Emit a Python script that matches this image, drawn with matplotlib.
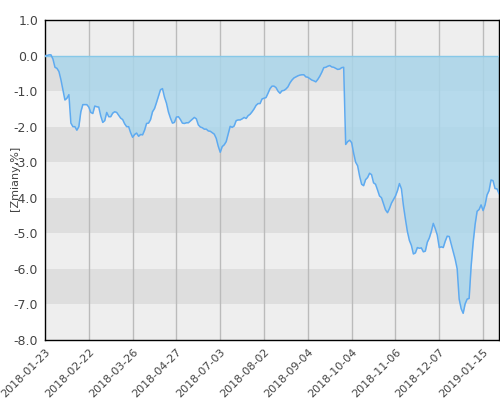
import numpy as np
import matplotlib
matplotlib.use("Agg")
import matplotlib.pyplot as plt

# zmiany w % (kolejne notowania)
zmiany = [
    0.0, 0.0, 0.02, 0.02, -0.1, -0.33, -0.36, -0.45, -0.68, -0.97,
    -1.25, -1.2, -1.1, -1.9, -2.0, -2.0, -2.1, -2.0, -1.58, -1.38,
    -1.38, -1.38, -1.45, -1.6, -1.63, -1.42, -1.44, -1.45, -1.7, -1.88,
    -1.83, -1.6, -1.72, -1.72, -1.62, -1.58, -1.6, -1.68, -1.76, -1.8,
    -1.92, -2.0, -2.0, -2.17, -2.3, -2.22, -2.18, -2.27, -2.22, -2.23,
    -2.1, -1.91, -1.9, -1.8, -1.58, -1.49, -1.32, -1.14, -0.96, -0.93,
    -1.17, -1.34, -1.59, -1.76, -1.9, -1.88, -1.73, -1.72, -1.8, -1.9,
    -1.91, -1.89, -1.89, -1.84, -1.79, -1.74, -1.78, -1.95, -2.01, -2.03,
    -2.07, -2.07, -2.12, -2.13, -2.17, -2.21, -2.33, -2.55, -2.72, -2.56,
    -2.51, -2.42, -2.2, -1.99, -2.02, -1.98, -1.83, -1.81, -1.81, -1.78,
    -1.74, -1.77, -1.69, -1.65, -1.58, -1.5, -1.4, -1.35, -1.35, -1.22,
    -1.2, -1.18, -1.06, -0.93, -0.86, -0.86, -0.9, -1.0, -1.06, -0.99,
    -0.98, -0.94, -0.88, -0.77, -0.69, -0.63, -0.6, -0.57, -0.55, -0.54,
    -0.54, -0.6, -0.61, -0.65, -0.69, -0.71, -0.74, -0.67, -0.58, -0.47,
    -0.34, -0.33, -0.3, -0.28, -0.32, -0.33, -0.36, -0.39, -0.38, -0.34,
    -0.33, -2.5, -2.42, -2.38, -2.45, -2.75, -3.0, -3.1, -3.39, -3.62,
    -3.66, -3.49, -3.43, -3.31, -3.35, -3.58, -3.62, -3.78, -3.95, -4.0,
    -4.17, -4.34, -4.42, -4.3, -4.15, -4.05, -3.95, -3.8, -3.6, -3.75,
    -4.22, -4.6, -4.95, -5.2, -5.34, -5.58, -5.55, -5.4, -5.42, -5.41,
    -5.52, -5.5, -5.25, -5.13, -4.95, -4.72, -4.87, -5.05, -5.4, -5.38,
    -5.4, -5.22, -5.08, -5.09, -5.3, -5.52, -5.73, -6.0, -6.85, -7.12,
    -7.25, -6.98, -6.85, -6.83, -5.93, -5.27, -4.75, -4.38, -4.33, -4.2,
    -4.36, -4.2, -3.92, -3.8, -3.5, -3.52, -3.74, -3.75, -3.88,
]

daty = ['2018-01-23', '2018-02-22', '2018-03-26', '2018-04-27', '2018-07-03',
        '2018-08-02', '2018-09-04', '2018-10-04', '2018-11-06', '2018-12-07',
        '2019-01-15']
krok = 22

y_ticks = [1.0, 0.0, -1.0, -2.0, -3.0, -4.0, -5.0, -6.0, -7.0, -8.0]

x = np.arange(len(zmiany))

fig = plt.figure(figsize=(5, 4), dpi=100)
ax = fig.add_axes([0.09, 0.15, 0.908, 0.80])

# pasy tla
for i, g in enumerate(range(1, -8, -1)):
    kolor = '#eeeeee' if i % 2 == 0 else '#dedede'
    ax.axhspan(g - 1, g, color=kolor, zorder=0, lw=0)

pozycje = [i * krok for i in range(len(daty))]
for p in pozycje[1:]:
    ax.axvline(p, color='#bbbbbb', lw=1, zorder=1)

ax.fill_between(x, 0, zmiany, color='#a8d6ec', alpha=0.8, lw=0, zorder=2)
ax.axhline(0, color='#87c8e8', lw=1, zorder=3)
ax.plot(x, zmiany, color='#5eaaf0', lw=1.1, zorder=4)

ax.set_xlim(0, len(zmiany) - 1)
ax.set_ylim(-8, 1)
ax.set_yticks(y_ticks)
ax.set_yticklabels(['%.1f' % v for v in y_ticks], fontsize=9, color='#444444')
ax.set_xticks(pozycje)
ax.set_xticklabels(daty, rotation=45, ha='right', rotation_mode='anchor',
                   fontsize=8, color='#444444')
ax.tick_params(length=0, pad=5)
for s in ax.spines.values():
    s.set_color('black')
    s.set_linewidth(1)

fig.text(0.03, 0.555, '[Zmiany,%]', rotation=90, ha='center', va='center',
         fontsize=8, color='#444444')

fig.savefig('out.png', dpi=100)
